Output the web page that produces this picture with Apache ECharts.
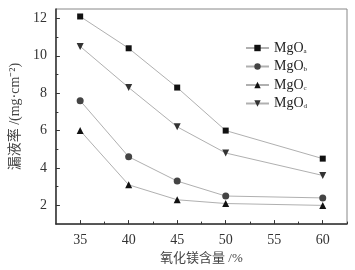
<!DOCTYPE html>
<html>
<head>
<meta charset="utf-8">
<script src="https://cdn.jsdelivr.net/npm/echarts@6/dist/echarts.min.js"></script>
<style>
  html, body { margin: 0; padding: 0; background: #fff; }
  #main { width: 355px; height: 270px; }
</style>
</head>
<body>
<div id="main"></div>
<script>
// 氧化镁含量 / %
var xValues = [35, 40, 45, 50, 60];
var xTicks = [35, 40, 45, 50, 55, 60];
var xMinorTicks = [37.5, 42.5, 47.5, 52.5, 57.5, 62.5];
var yTicks = [2, 4, 6, 8, 10, 12];
var yMinorTicks = [3, 5, 7, 9, 11];

// 漏液率 / (mg·cm^-2)
var mgoA = [12.1, 10.4, 8.3, 6.0, 4.5];
var mgoB = [7.6, 4.6, 3.3, 2.5, 2.4];
var mgoC = [6.0, 3.1, 2.3, 2.1, 2.0];
var mgoD = [10.5, 8.3, 6.2, 4.8, 3.6];

var names = ['MgOa', 'MgOb', 'MgOc', 'MgOd'];

function pairs(arr) {
    return arr.map(function (v, i) { return [xValues[i], v]; });
}

var myChart = echarts.init(document.getElementById('main'));

var serif = 'Liberation Serif';
var mixed = '"Liberation Serif", "Noto Sans CJK SC"';

function makeSeries(name, data, symbol, size, color, rotate) {
    return {
        name: name,
        type: 'line',
        data: pairs(data),
        symbol: symbol,
        symbolSize: size,
        symbolRotate: rotate || 0,
        lineStyle: { color: '#b0b0b0', width: 1 },
        itemStyle: { color: color },
        animation: false
    };
}

var option = {
    backgroundColor: '#fff',
    grid: {
        left: 48, right: 8, top: 9, bottom: 41,
        show: true, borderColor: '#888', borderWidth: 1
    },
    legend: {
        data: names,
        orient: 'vertical',
        left: 240,
        top: 36,
        itemWidth: 23,
        itemHeight: 8,
        itemGap: 4.5,
        formatter: function (n) {
            return '{m|MgO}{s|' + n.slice(3) + '}';
        },
        textStyle: {
            rich: {
                m: { fontFamily: serif, fontSize: 14, color: '#222' },
                s: { fontFamily: serif, fontSize: 7, color: '#222', padding: [6, 0, 0, 0] }
            }
        }
    },
    xAxis: [{
        type: 'value',
        min: 32.5, max: 62.5,
        axisLine: { lineStyle: { color: '#333', width: 1.5 } },
        axisTick: { inside: true, length: 4, customValues: xTicks, lineStyle: { color: '#333' } },
        axisLabel: { customValues: xTicks, fontFamily: serif, fontSize: 14, color: '#333', margin: 9 },
        splitLine: { show: false },
        name: '氧化镁含量 /%',
        nameLocation: 'middle',
        nameGap: 25,
        nameTextStyle: { fontFamily: mixed, fontSize: 13, color: '#444' }
    }, {
        type: 'value',
        position: 'bottom',
        min: 32.5, max: 62.5,
        axisLine: { show: false },
        axisTick: { inside: true, length: 2.5, customValues: xMinorTicks, lineStyle: { color: '#333' } },
        axisLabel: { show: false },
        splitLine: { show: false }
    }],
    yAxis: [{
        type: 'value',
        min: 1, max: 12.5,
        axisLine: { show: true, lineStyle: { color: '#333', width: 1.5 } },
        axisTick: { show: true, inside: true, length: 4, customValues: yTicks, lineStyle: { color: '#333' } },
        axisLabel: { customValues: yTicks, fontFamily: serif, fontSize: 14, color: '#333', margin: 9 },
        splitLine: { show: false },
        name: '漏液率 /(mg·cm⁻²)',
        nameLocation: 'middle',
        nameRotate: 90,
        nameGap: 27,
        nameTextStyle: { fontFamily: mixed, fontSize: 14, color: '#444' }
    }, {
        type: 'value',
        position: 'left',
        min: 1, max: 12.5,
        axisLine: { show: false },
        axisTick: { show: true, inside: true, length: 2.5, customValues: yMinorTicks, lineStyle: { color: '#333' } },
        axisLabel: { show: false },
        splitLine: { show: false }
    }],
    series: [
        makeSeries('MgOa', mgoA, 'rect', 6, '#111'),
        makeSeries('MgOb', mgoB, 'circle', 7, '#444'),
        makeSeries('MgOc', mgoC, 'triangle', 7, '#111'),
        makeSeries('MgOd', mgoD, 'triangle', 7, '#333', 180)
    ]
};

myChart.setOption(option);
</script>
</body>
</html>
